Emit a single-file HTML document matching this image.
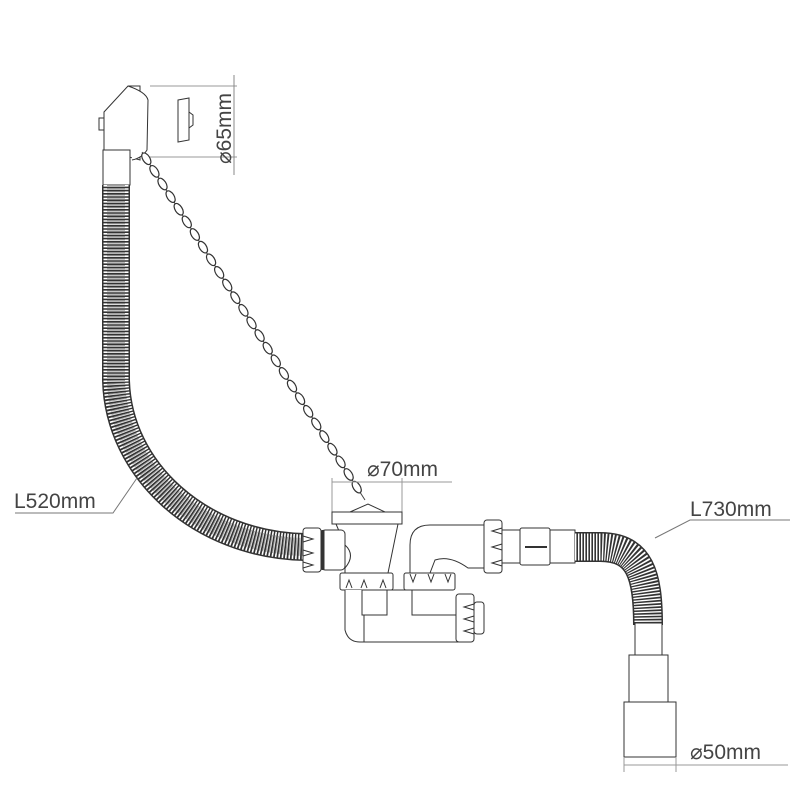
<!DOCTYPE html>
<html><head><style>body{margin:0;background:#fff}svg{display:block}text{font-family:"Liberation Sans","DejaVu Sans",sans-serif;fill:#444}</style></head>
<body>
<svg width="800" height="800" viewBox="0 0 800 800" xmlns="http://www.w3.org/2000/svg">
<defs><g id="lk"><ellipse cx="0" cy="0" rx="6.5" ry="3.5" fill="#fff" stroke="#333" stroke-width="1.2"/></g></defs>
<g fill="none" stroke="#333" stroke-width="1">
<line x1="150" y1="86" x2="237" y2="86" stroke="#999"/>
<line x1="150" y1="157" x2="237" y2="157" stroke="#999"/>
<line x1="234" y1="75" x2="234" y2="175" stroke="#888"/>
<polygon points="104,112 128,86 140,86 140,160 104,150" fill="#fff"/>
<path d="M128,86 Q146,92 148,100 L147,150 Q142,158 132,160" fill="#fff"/>
<rect x="99" y="118" width="5" height="12"/>
<rect x="103" y="150" width="27" height="35" fill="#fff"/>
<polygon points="178,100 189,98 189,140 178,142" fill="#fff"/>
<path d="M189,112 l4,3 l0,10 l-4,3" />
<path d="M116,185 L116,380 C118,470 200,545 305,547" stroke="#333" stroke-width="28"/>
<path d="M116,185 L116,380 C118,470 200,545 305,547" stroke="#fff" stroke-width="25" stroke-dasharray="1.6 1.6"/>
<path d="M116,185 L116,380 C118,470 200,545 305,547" stroke="#666" stroke-width="18" stroke-dasharray="1 2.2" opacity="0.6"/>
<line x1="142" y1="152" x2="365" y2="500" stroke="#444"/>
</g>
<g transform="translate(142,152) rotate(57.35)">
<use href="#lk" x="8"/><use href="#lk" x="23"/><use href="#lk" x="38"/><use href="#lk" x="53"/><use href="#lk" x="68"/><use href="#lk" x="83"/><use href="#lk" x="98"/><use href="#lk" x="113"/><use href="#lk" x="128"/><use href="#lk" x="143"/><use href="#lk" x="158"/><use href="#lk" x="173"/><use href="#lk" x="188"/><use href="#lk" x="203"/><use href="#lk" x="218"/><use href="#lk" x="233"/><use href="#lk" x="248"/><use href="#lk" x="263"/><use href="#lk" x="278"/><use href="#lk" x="293"/><use href="#lk" x="308"/><use href="#lk" x="323"/><use href="#lk" x="338"/><use href="#lk" x="353"/><use href="#lk" x="368"/><use href="#lk" x="383"/><use href="#lk" x="398"/>
</g>
<g fill="none" stroke="#333" stroke-width="1">
<line x1="332" y1="482" x2="452" y2="482" stroke="#999"/>
<line x1="332" y1="478" x2="332" y2="512" stroke="#999"/>
<line x1="402" y1="478" x2="402" y2="512" stroke="#999"/>
<path d="M350,512 L368,504 L385,512" />
<rect x="332" y="512" width="70" height="12" fill="#fff"/>
<path d="M336,524 L345,545 Q356,555 345,568 L345,573 L388,573 L398,524 Z" fill="#fff"/>
<rect x="321" y="530" width="24" height="40" rx="4" fill="#fff"/>
<line x1="323" y1="530" x2="323" y2="570" stroke-width="3"/>
<rect x="303" y="528" width="18" height="44" rx="3" fill="#fff"/>
<path d="M303,536 l10,3 l-10,3 M303,550 l10,3 l-10,3 M303,562 l10,3 l-10,3"/>
<rect x="340" y="573" width="53" height="17" rx="2" fill="#fff"/>
<path d="M346,588 l3,-8 l3,8 M361,588 l3,-8 l3,8 M380,588 l3,-8 l3,8"/>
<path d="M345,590 L345,630 Q348,642 360,642 L458,642 L458,615 L412,615 L412,590 L387,590 L387,615 L362,615 L362,590" fill="#fff"/>
<line x1="364" y1="615" x2="364" y2="642"/>
<rect x="404" y="573" width="51" height="17" rx="2" fill="#fff"/>
<path d="M410,574 l3,8 l3,-8 M428,574 l3,8 l3,-8 M445,574 l3,8 l3,-8"/>
<rect x="456" y="594" width="18" height="48" rx="3" fill="#fff"/>
<rect x="474" y="602" width="10" height="32" rx="3" fill="#fff"/>
<path d="M474,604 l-10,3 l10,3 M474,616 l-10,3 l10,3 M474,628 l-10,3 l10,3"/>
<path d="M410,573 L410,545 Q410,525 430,525 L484,525 L484,568 L468,568 Q450,555 435,560 L430,573 Z" fill="#fff"/>
<rect x="484" y="520" width="18" height="53" rx="3" fill="#fff"/>
<path d="M502,528 l-10,3 l10,3 M502,544 l-10,3 l10,3 M502,560 l-10,3 l10,3"/>
<rect x="502" y="530" width="18" height="33" fill="#fff"/>
<rect x="520" y="528" width="30" height="37" rx="2" fill="#fff"/>
<line x1="525" y1="547" x2="547" y2="547" stroke-width="2"/>
<rect x="550" y="530" width="25" height="33" fill="#fff"/>
<path d="M575,547 L600,547 C640,547 648,575 648,625" stroke="#333" stroke-width="30"/>
<path d="M575,547 L600,547 C640,547 648,575 648,625" stroke="#fff" stroke-width="27" stroke-dasharray="1.4 1.6"/>
<rect x="635" y="623" width="27" height="32" fill="#fff"/>
<rect x="629" y="655" width="39" height="47" fill="#fff"/>
<rect x="624" y="702" width="52" height="55" fill="#fff"/>
<line x1="624" y1="757" x2="624" y2="772" stroke="#999"/>
<line x1="676" y1="757" x2="676" y2="772" stroke="#999"/>
<line x1="624" y1="765" x2="788" y2="765" stroke="#999"/>
<polyline points="15,513 113,513 137,478" stroke="#777"/>
<polyline points="790,520 690,520 655,538" stroke="#777"/>
</g>
<text x="14" y="508" font-size="21">L520mm</text>
<text x="690" y="516" font-size="21">L730mm</text>
<text x="367" y="476" font-size="21">⌀70mm</text>
<text x="690" y="759" font-size="21">⌀50mm</text>
<text transform="translate(231,164) rotate(-90)" font-size="21">⌀65mm</text>
</svg>
</body></html>
